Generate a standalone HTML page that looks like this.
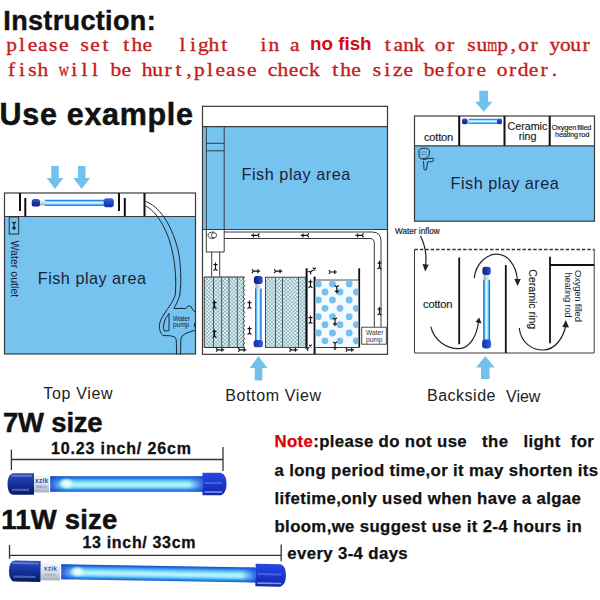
<!DOCTYPE html>
<html><head><meta charset="utf-8"><style>
html,body{margin:0;padding:0;background:#fff;}
body{width:600px;height:600px;position:relative;overflow:hidden;font-family:"Liberation Sans",sans-serif;}
svg{position:absolute;left:0;top:0;font-family:"Liberation Sans",sans-serif;}
</style></head><body>
<svg width="600" height="600" viewBox="0 0 600 600"><defs><pattern id="hatch" width="3.6" height="3.6" patternUnits="userSpaceOnUse"><rect width="3.6" height="3.6" fill="#def8fa"/><path d="M0 0 L3.6 3.6 M3.6 0 L0 3.6" stroke="#84a4ac" stroke-width="0.75"/></pattern><clipPath id="cerClip"><rect x="315.6" y="280.4" width="42.6" height="66.7"/></clipPath><linearGradient id="tubeS" x1="0" y1="0" x2="0" y2="1"><stop offset="0" stop-color="#2050d0"/><stop offset="0.16" stop-color="#3c90f0"/><stop offset="0.32" stop-color="#90e4ff"/><stop offset="0.5" stop-color="#e0fcff"/><stop offset="0.68" stop-color="#90e4ff"/><stop offset="0.84" stop-color="#3c90f0"/><stop offset="1" stop-color="#2050d0"/></linearGradient><linearGradient id="capS2" x1="0" y1="0" x2="0" y2="1"><stop offset="0" stop-color="#3a64e0"/><stop offset="0.5" stop-color="#1e44c8"/><stop offset="1" stop-color="#14309a"/></linearGradient><linearGradient id="capS" x1="0" y1="0" x2="0" y2="1"><stop offset="0" stop-color="#3858c8"/><stop offset="0.45" stop-color="#1a3aa8"/><stop offset="1" stop-color="#0e2070"/></linearGradient><linearGradient id="silS" x1="0" y1="0" x2="0" y2="1"><stop offset="0" stop-color="#f0f4f8"/><stop offset="0.6" stop-color="#c8d0dc"/><stop offset="1" stop-color="#98a0b0"/></linearGradient></defs><rect x="4" y="216.5" width="191.5" height="137.5" fill="#77c3ef"/><rect x="4.5" y="193" width="191" height="161" fill="none" stroke="#3a3a3a" stroke-width="1.2"/><line x1="4" y1="216.5" x2="195.5" y2="216.5" stroke="#3a3a3a" stroke-width="1.2"/><path d="M51.25 166 H58.75 V178 H63.35 L55 189 L46.65 178 H51.25 Z" fill="#72c0ec"/><path d="M77.95 166 H85.45 V178 H90.05 L81.7 189 L73.35000000000001 178 H77.95 Z" fill="#72c0ec"/><line x1="20" y1="193" x2="20" y2="211" stroke="#111" stroke-width="2"/><line x1="25.3" y1="198" x2="25.3" y2="216.5" stroke="#111" stroke-width="2"/><line x1="119" y1="193" x2="119" y2="211" stroke="#111" stroke-width="2"/><line x1="124.8" y1="198" x2="124.8" y2="216.5" stroke="#111" stroke-width="2"/><line x1="144.5" y1="193" x2="144.5" y2="216.5" stroke="#111" stroke-width="2"/><g transform="translate(31.7,202.8) rotate(0)"><rect x="13.0" y="-3.0" width="59.49999999999999" height="6" fill="url(#tubeS)"/><rect x="7.800000000000001" y="-2.55" width="5.7" height="5.1" fill="url(#silS)"/><rect x="0" y="-3.75" width="8.3" height="7.5" rx="2.625" fill="url(#capS)"/><rect x="72.0" y="-4.5" width="10.1" height="9" rx="3.15" fill="url(#capS2)"/></g><rect x="9.2" y="217" width="9.5" height="17" fill="none" stroke="#222" stroke-width="0.9"/><g transform="translate(14,226.5) scale(0.9,-0.9)" stroke="#111" stroke-width="1.3" fill="none"><path d="M0 -4 V3.5 M0 3.5 L-2.2 5 M0 3.5 L2.2 5 M-2.2 -1.5 H2.2"/></g><text x="0" y="0" transform="translate(10.5,240.5) rotate(90)" font-size="10.6" fill="#17223a">Water outlet</text><text x="37.8" y="284.4" font-size="16.2" letter-spacing="0.5" fill="#17223a">Fish play area</text><g fill="none" stroke="#1a2636" stroke-width="1"><path d="M145.5 205.9 C 156 211, 167 228, 172 250 C 175.5 265, 176.5 282, 175.2 295 C 172 305, 162 315, 160 322 C 158.5 328, 160 333, 163 335.5 L170.5 335.8 L174.6 336.9 L176.2 339.4 L176.7 354.4"/><path d="M145.5 201.3 C 158 206, 171 222, 178 250 C 181 263, 181.5 282, 179.8 295 C 178 301, 175.5 306, 173.8 308.5 L186 308.4 L188.2 305.8 L190.8 306.4 L193.3 310.6 L195.8 312"/><path d="M195.5 321.9 Q193 325 195.5 328 M195.3 330.1 L189.1 332.2 L185 333.8 L181.9 336.3 L180.8 339.4 L180.6 354.4"/><path d="M169 313.6 L169 330.7 L164.1 331 L163.3 326 L165.3 318.8 Z"/></g><text x="173" y="320.8" font-size="6.6" letter-spacing="-0.1" fill="#17223a">Water</text><text x="173" y="327.3" font-size="6.6" letter-spacing="-0.1" fill="#17223a">pump</text><rect x="202.5" y="126.7" width="185" height="102.8" fill="#77c3ef"/><rect x="202.5" y="106.3" width="185" height="248" fill="none" stroke="#3a3a3a" stroke-width="1.2"/><line x1="202.5" y1="126.7" x2="387.5" y2="126.7" stroke="#3a3a3a" stroke-width="1.2"/><line x1="202.5" y1="229.5" x2="387.5" y2="229.5" stroke="#3a3a3a" stroke-width="1"/><path d="M206.3 126.7 V252 H224.2 V126.7 M206.3 143.3 H224.2 M206.3 150.8 H224.2" fill="none" stroke="#3a3a3a" stroke-width="1"/><text x="241.5" y="179.6" font-size="16.2" letter-spacing="0.55" fill="#17223a">Fish play area</text><path d="M224.2 232 H372 Q381 232 381 241 V327.2 M224.2 238.5 H370 Q374.3 238.5 374.3 243 V327.2" fill="none" stroke="#3a3a3a" stroke-width="1"/><path d="M214 232 Q208 232 208 235.3 Q208 238.5 214 238.5" fill="none" stroke="#3a3a3a" stroke-width="1"/><circle cx="214" cy="235.3" r="2.6" fill="none" stroke="#3a3a3a" stroke-width="0.9"/><path d="M211.7 252 V276.7 M219.7 252 V276.7" stroke="#3a3a3a" stroke-width="1"/><path d="M204.2 277 H244.5 Q241.5 279.2 244.5 281.4 Q241.5 283.59999999999997 244.5 285.79999999999995 Q241.5 287.99999999999994 244.5 290.19999999999993 Q241.5 292.3999999999999 244.5 294.5999999999999 Q241.5 296.7999999999999 244.5 298.9999999999999 Q241.5 301.1999999999999 244.5 303.39999999999986 Q241.5 305.59999999999985 244.5 307.79999999999984 Q241.5 309.99999999999983 244.5 312.1999999999998 Q241.5 314.3999999999998 244.5 316.5999999999998 Q241.5 318.7999999999998 244.5 320.9999999999998 Q241.5 323.19999999999976 244.5 325.39999999999975 Q241.5 327.59999999999974 244.5 329.7999999999997 Q241.5 331.9999999999997 244.5 334.1999999999997 Q241.5 336.3999999999997 244.5 338.5999999999997 Q241.5 340.79999999999967 244.5 342.99999999999966 Q241.5 345.19999999999965 244.5 347.39999999999964 L244.5 347.5 H204.2 Z" fill="url(#hatch)" stroke="#333" stroke-width="1"/><line x1="213.5" y1="277" x2="213.5" y2="347.5" stroke="#4a5560" stroke-width="1"/><line x1="221.7" y1="277" x2="221.7" y2="347.5" stroke="#4a5560" stroke-width="1"/><line x1="229" y1="277" x2="229" y2="347.5" stroke="#4a5560" stroke-width="1"/><line x1="237.3" y1="277" x2="237.3" y2="347.5" stroke="#4a5560" stroke-width="1"/><g transform="translate(258.3,276) rotate(90)"><rect x="12.2" y="-3.3" width="52.3" height="6.6" fill="url(#tubeS)"/><rect x="7.5" y="-2.8049999999999997" width="5.2" height="5.609999999999999" fill="url(#silS)"/><rect x="0" y="-4.4" width="8" height="8.8" rx="2.8" fill="url(#capS)"/><rect x="64.0" y="-4.7" width="7.3" height="9.4" rx="2.5549999999999997" fill="url(#capS2)"/></g><rect x="265.5" y="277.2" width="40.5" height="70.3" fill="url(#hatch)" stroke="#3a3a3a" stroke-width="0.9"/><line x1="275.5" y1="277.2" x2="275.5" y2="347.5" stroke="#4a5560" stroke-width="1"/><line x1="282.5" y1="277.2" x2="282.5" y2="347.5" stroke="#4a5560" stroke-width="1"/><line x1="298.5" y1="277.2" x2="298.5" y2="347.5" stroke="#4a5560" stroke-width="1"/><line x1="306.6" y1="268.3" x2="306.6" y2="348" stroke="#111" stroke-width="2"/><line x1="314.6" y1="276.6" x2="314.6" y2="354" stroke="#111" stroke-width="2"/><line x1="359.2" y1="268.3" x2="359.2" y2="347.5" stroke="#111" stroke-width="1.8"/><rect x="315.6" y="280" width="42.6" height="67.5" fill="#f4fbff"/><line x1="315.6" y1="280" x2="359.2" y2="280" stroke="#3a3a3a" stroke-width="0.9"/><line x1="315.6" y1="347.5" x2="359.2" y2="347.5" stroke="#3a3a3a" stroke-width="1"/><g clip-path="url(#cerClip)"><circle cx="318.3" cy="284" r="3.4" fill="#74c0ee"/><circle cx="332.5" cy="284" r="3.4" fill="#74c0ee"/><circle cx="349.2" cy="284" r="3.4" fill="#74c0ee"/><circle cx="325" cy="292" r="3.4" fill="#74c0ee"/><circle cx="340" cy="292" r="3.4" fill="#74c0ee"/><circle cx="356.3" cy="292" r="3.4" fill="#74c0ee"/><circle cx="318.3" cy="300" r="3.4" fill="#74c0ee"/><circle cx="332.5" cy="300" r="3.4" fill="#74c0ee"/><circle cx="349.2" cy="300" r="3.4" fill="#74c0ee"/><circle cx="325" cy="308.3" r="3.4" fill="#74c0ee"/><circle cx="340" cy="308.3" r="3.4" fill="#74c0ee"/><circle cx="356.3" cy="308.3" r="3.4" fill="#74c0ee"/><circle cx="318.3" cy="316.7" r="3.4" fill="#74c0ee"/><circle cx="332.5" cy="316.7" r="3.4" fill="#74c0ee"/><circle cx="349.2" cy="316.7" r="3.4" fill="#74c0ee"/><circle cx="325" cy="324.7" r="3.4" fill="#74c0ee"/><circle cx="340" cy="324.7" r="3.4" fill="#74c0ee"/><circle cx="356.3" cy="324.7" r="3.4" fill="#74c0ee"/><circle cx="318.3" cy="333" r="3.4" fill="#74c0ee"/><circle cx="332.5" cy="333" r="3.4" fill="#74c0ee"/><circle cx="349.2" cy="333" r="3.4" fill="#74c0ee"/><circle cx="325" cy="340.8" r="3.4" fill="#74c0ee"/><circle cx="340" cy="340.8" r="3.4" fill="#74c0ee"/><circle cx="356.3" cy="340.8" r="3.4" fill="#74c0ee"/></g><rect x="361.7" y="327.2" width="24.6" height="17" fill="#fff" stroke="#3a3a3a" stroke-width="0.9"/><text x="366" y="334.5" font-size="6.6" fill="#333">Water</text><text x="366" y="341.8" font-size="6.6" fill="#333">pump</text><g transform="translate(254.8,235.4) scale(0.9,0.9)" stroke="#111" stroke-width="1.3" fill="none"><path d="M-4 0 H3.5 M3.5 0 L5 -2.2 M3.5 0 L5 2.2 M-1.5 -2.2 V2.2"/></g><g transform="translate(304.3,235.4) scale(0.9,0.9)" stroke="#111" stroke-width="1.3" fill="none"><path d="M-4 0 H3.5 M3.5 0 L5 -2.2 M3.5 0 L5 2.2 M-1.5 -2.2 V2.2"/></g><g transform="translate(359,235.4) scale(0.9,0.9)" stroke="#111" stroke-width="1.3" fill="none"><path d="M-4 0 H3.5 M3.5 0 L5 -2.2 M3.5 0 L5 2.2 M-1.5 -2.2 V2.2"/></g><g transform="translate(256.5,271.2) scale(-0.9,0.9)" stroke="#111" stroke-width="1.3" fill="none"><path d="M-4 0 H3.5 M3.5 0 L5 -2.2 M3.5 0 L5 2.2 M-1.5 -2.2 V2.2"/></g><g transform="translate(278.7,271.2) scale(-0.9,0.9)" stroke="#111" stroke-width="1.3" fill="none"><path d="M-4 0 H3.5 M3.5 0 L5 -2.2 M3.5 0 L5 2.2 M-1.5 -2.2 V2.2"/></g><g transform="translate(333.4,272) scale(-0.9,0.9)" stroke="#111" stroke-width="1.3" fill="none"><path d="M-4 0 H3.5 M3.5 0 L5 -2.2 M3.5 0 L5 2.2 M-1.5 -2.2 V2.2"/></g><g transform="translate(220.6,349.8) scale(-0.9,0.9)" stroke="#111" stroke-width="1.3" fill="none"><path d="M-4 0 H3.5 M3.5 0 L5 -2.2 M3.5 0 L5 2.2 M-1.5 -2.2 V2.2"/></g><g transform="translate(242.8,349.8) scale(-0.9,0.9)" stroke="#111" stroke-width="1.3" fill="none"><path d="M-4 0 H3.5 M3.5 0 L5 -2.2 M3.5 0 L5 2.2 M-1.5 -2.2 V2.2"/></g><g transform="translate(294,349.8) scale(-0.9,0.9)" stroke="#111" stroke-width="1.3" fill="none"><path d="M-4 0 H3.5 M3.5 0 L5 -2.2 M3.5 0 L5 2.2 M-1.5 -2.2 V2.2"/></g><g transform="translate(350.4,349.8) scale(-0.9,0.9)" stroke="#111" stroke-width="1.3" fill="none"><path d="M-4 0 H3.5 M3.5 0 L5 -2.2 M3.5 0 L5 2.2 M-1.5 -2.2 V2.2"/></g><g transform="translate(313,270) rotate(-40)"><g transform="translate(0,0) scale(-0.9,0.9)" stroke="#111" stroke-width="1.3" fill="none"><path d="M-4 0 H3.5 M3.5 0 L5 -2.2 M3.5 0 L5 2.2 M-1.5 -2.2 V2.2"/></g></g><g transform="translate(309.5,347) rotate(-45)"><g transform="translate(0,0) scale(-0.8,0.8)" stroke="#111" stroke-width="1.3" fill="none"><path d="M-4 0 H3.5 M3.5 0 L5 -2.2 M3.5 0 L5 2.2 M-1.5 -2.2 V2.2"/></g></g><g transform="translate(215.5,266) scale(0.9,0.9)" stroke="#111" stroke-width="1.3" fill="none"><path d="M0 -4 V3.5 M0 3.5 L-2.2 5 M0 3.5 L2.2 5 M-2.2 -1.5 H2.2"/></g><g transform="translate(379.5,264.4) scale(0.9,0.9)" stroke="#111" stroke-width="1.3" fill="none"><path d="M0 -4 V3.5 M0 3.5 L-2.2 5 M0 3.5 L2.2 5 M-2.2 -1.5 H2.2"/></g><g transform="translate(379.5,310.5) scale(0.9,0.9)" stroke="#111" stroke-width="1.3" fill="none"><path d="M0 -4 V3.5 M0 3.5 L-2.2 5 M0 3.5 L2.2 5 M-2.2 -1.5 H2.2"/></g><g transform="translate(214.5,304) scale(0.9,0.9)" stroke="#111" stroke-width="1.3" fill="none"><path d="M0 -4 V3.5 M0 3.5 L-2.2 5 M0 3.5 L2.2 5 M-2.2 -1.5 H2.2"/></g><g transform="translate(214.5,333) scale(0.9,0.9)" stroke="#111" stroke-width="1.3" fill="none"><path d="M0 -4 V3.5 M0 3.5 L-2.2 5 M0 3.5 L2.2 5 M-2.2 -1.5 H2.2"/></g><g transform="translate(249.5,304) scale(0.9,0.9)" stroke="#111" stroke-width="1.3" fill="none"><path d="M0 -4 V3.5 M0 3.5 L-2.2 5 M0 3.5 L2.2 5 M-2.2 -1.5 H2.2"/></g><g transform="translate(249.5,330) scale(0.9,0.9)" stroke="#111" stroke-width="1.3" fill="none"><path d="M0 -4 V3.5 M0 3.5 L-2.2 5 M0 3.5 L2.2 5 M-2.2 -1.5 H2.2"/></g><g transform="translate(310.5,283.2) scale(0.9,0.9)" stroke="#111" stroke-width="1.3" fill="none"><path d="M0 -4 V3.5 M0 3.5 L-2.2 5 M0 3.5 L2.2 5 M-2.2 -1.5 H2.2"/></g><g transform="translate(310.5,319) scale(0.9,0.9)" stroke="#111" stroke-width="1.3" fill="none"><path d="M0 -4 V3.5 M0 3.5 L-2.2 5 M0 3.5 L2.2 5 M-2.2 -1.5 H2.2"/></g><g transform="translate(336.8,290) scale(0.9,-0.9)" stroke="#111" stroke-width="1.3" fill="none"><path d="M0 -4 V3.5 M0 3.5 L-2.2 5 M0 3.5 L2.2 5 M-2.2 -1.5 H2.2"/></g><g transform="translate(335,322.5) scale(0.9,-0.9)" stroke="#111" stroke-width="1.3" fill="none"><path d="M0 -4 V3.5 M0 3.5 L-2.2 5 M0 3.5 L2.2 5 M-2.2 -1.5 H2.2"/></g><g transform="translate(335,346.4) scale(0.9,-0.9)" stroke="#111" stroke-width="1.3" fill="none"><path d="M0 -4 V3.5 M0 3.5 L-2.2 5 M0 3.5 L2.2 5 M-2.2 -1.5 H2.2"/></g><path d="M254.7 380.6 H262.3 V368 H267.35 L258.5 356 L249.65 368 H254.7 Z" fill="#72c0ec"/><rect x="414.5" y="145.8" width="180" height="75.4" fill="#77c3ef"/><rect x="414.5" y="116" width="180" height="105.2" fill="none" stroke="#3a3a3a" stroke-width="1.2"/><line x1="414.5" y1="145.8" x2="594.5" y2="145.8" stroke="#3a3a3a" stroke-width="1.2"/><line x1="459.2" y1="116" x2="459.2" y2="145.8" stroke="#111" stroke-width="2"/><line x1="504.5" y1="116" x2="504.5" y2="145.8" stroke="#111" stroke-width="2"/><line x1="549.7" y1="116" x2="549.7" y2="145.8" stroke="#111" stroke-width="2"/><path d="M479.3 90.8 H488.09999999999997 V101.7 H492.45 L483.7 111.7 L474.95 101.7 H479.3 Z" fill="#72c0ec"/><g transform="translate(462,121.3) rotate(0)"><rect x="6.5" y="-2.5" width="29.0" height="5" fill="url(#tubeS)"/><rect x="5.0" y="-2.125" width="2.0" height="4.25" fill="url(#silS)"/><rect x="0" y="-2.9" width="5.5" height="5.8" rx="1.9249999999999998" fill="url(#capS)"/><rect x="35" y="-2.9" width="5" height="5.8" rx="1.75" fill="url(#capS2)"/></g><text x="424" y="140.5" font-size="11.2" letter-spacing="-0.25" fill="#1a1a1a" stroke="#1a1a1a" stroke-width="0.15">cotton</text><text x="507.5" y="130" font-size="10.7" fill="#1a1a1a" stroke="#1a1a1a" stroke-width="0.15">Ceramic</text><text x="518.7" y="140" font-size="10.7" fill="#1a1a1a" stroke="#1a1a1a" stroke-width="0.15">ring</text><text x="551.7" y="129.6" font-size="7.4" letter-spacing="-0.18" word-spacing="-0.8" fill="#1a1a1a" stroke="#1a1a1a" stroke-width="0.15">Oxygen filled</text><text x="555" y="137.2" font-size="7.4" letter-spacing="-0.18" word-spacing="-0.8" fill="#1a1a1a" stroke="#1a1a1a" stroke-width="0.15">heating rod</text><text x="450.6" y="188.7" font-size="16.2" letter-spacing="0.5" fill="#17223a">Fish play area</text><g fill="none" stroke="#1c3050" stroke-width="1"><path d="M419 152 Q418 148.5 423 148.3 Q429 148 429.5 151 Q430 156 427 158 L421 159 Q418 157 419 152 Z"/><path d="M423 159.5 L433 158 Q434 160 433 161.5 L427.5 162 L426.5 169.5 Q425 170.5 424 169.5 L423.5 161"/><path d="M420.5 152 H427 M420.5 154.5 H427" stroke-width="0.5" stroke="#4a6080"/></g><text x="395" y="233.8" font-size="8.2" fill="#2a2a2a" stroke="#2a2a2a" stroke-width="0.2">Water inflow</text><path d="M420.5 236 C 425 245, 427 255, 425.5 266" fill="none" stroke="#222" stroke-width="1.2"/><path d="M422.5 264 L425.2 271.5 L428.8 264.8 Z" fill="#222"/><line x1="414.5" y1="249.5" x2="594.5" y2="249.5" stroke="#333" stroke-width="1.3" stroke-dasharray="3.4 2"/><path d="M414.5 249.5 V353 H594.2 V249.5" fill="none" stroke="#3a3a3a" stroke-width="1"/><line x1="459.2" y1="257.5" x2="459.2" y2="344.2" stroke="#111" stroke-width="1.8"/><line x1="505.8" y1="265" x2="505.8" y2="353" stroke="#111" stroke-width="1.8"/><line x1="550" y1="256.7" x2="550" y2="343.3" stroke="#111" stroke-width="1.8"/><line x1="550" y1="265" x2="594.2" y2="265" stroke="#111" stroke-width="1.8"/><g transform="translate(486.6,266.7) rotate(90)"><rect x="13.0" y="-3.5" width="60.3" height="7" fill="url(#tubeS)"/><rect x="7.800000000000001" y="-2.975" width="5.7" height="5.95" fill="url(#silS)"/><rect x="0" y="-4.2" width="8.3" height="8.4" rx="2.9050000000000002" fill="url(#capS)"/><rect x="72.8" y="-4.5" width="9" height="9" rx="3.15" fill="url(#capS2)"/></g><text x="423" y="307.8" font-size="11.2" letter-spacing="-0.2" fill="#1a1a1a" stroke="#1a1a1a" stroke-width="0.15">cotton</text><text x="0" y="0" transform="translate(528.5,269.2) rotate(90)" font-size="10.6" fill="#1a1a1a" stroke="#1a1a1a" stroke-width="0.15">Ceramic ring</text><text x="0" y="0" transform="translate(575,270) rotate(90)" font-size="9.5" letter-spacing="-0.25" fill="#17223a">Oxygen filled</text><text x="0" y="0" transform="translate(565,272.5) rotate(90)" font-size="9.5" letter-spacing="-0.25" fill="#17223a">heating rod</text><g fill="none" stroke="#222" stroke-width="1.2"><path d="M474.2 278.3 C 476 262, 488 254, 497 254.2 C 508 254.5, 516 265, 517.5 280"/><path d="M430.8 326.7 C 434 340, 446 349, 459 348.7 C 470 348.5, 477 335, 478.5 322"/><path d="M519.2 328 C 521 343, 532 350, 543.3 350 C 555 350, 563 338, 565.8 326"/></g><path d="M514.3 279 L517.5 286 L520.8 279 Z" fill="#222"/><path d="M475.5 322 L479.2 317.5 L481.5 323.5 Z" fill="#222"/><path d="M562.3 327 L565.8 320 L569 327.5 Z" fill="#222"/><path d="M481.05 379 H489.55 V367.5 H494.55 L485.3 356 L476.05 367.5 H481.05 Z" fill="#72c0ec"/><text x="43.3" y="399.2" font-size="16" letter-spacing="0.67" fill="#222">Top View</text><text x="225.2" y="401" font-size="16" letter-spacing="0.63" fill="#222">Bottom View</text><text x="427" y="400.75" font-size="16" letter-spacing="0.5" fill="#222">Backside</text><text x="506" y="402" font-size="16" fill="#222">View</text><defs><linearGradient id="tubeB" x1="0" y1="0" x2="0" y2="1"><stop offset="0" stop-color="#1848c8"/><stop offset="0.1" stop-color="#2070e0"/><stop offset="0.25" stop-color="#50b8f4"/><stop offset="0.45" stop-color="#a8ecff"/><stop offset="0.6" stop-color="#b8f2ff"/><stop offset="0.75" stop-color="#70d0f8"/><stop offset="0.88" stop-color="#2a88e8"/><stop offset="1" stop-color="#1a58d0"/></linearGradient><linearGradient id="tubeStart" x1="0" y1="0" x2="1" y2="0"><stop offset="0" stop-color="#1a50d0" stop-opacity="0.95"/><stop offset="1" stop-color="#1a60e0" stop-opacity="0"/></linearGradient><radialGradient id="glow"><stop offset="0" stop-color="#ffffff"/><stop offset="0.5" stop-color="#e0ffff" stop-opacity="0.8"/><stop offset="1" stop-color="#c0f8ff" stop-opacity="0"/></radialGradient><linearGradient id="tubeEnd" x1="0" y1="0" x2="1" y2="0"><stop offset="0" stop-color="#1a60e0" stop-opacity="0"/><stop offset="1" stop-color="#1a50d8" stop-opacity="0.85"/></linearGradient><linearGradient id="capL" x1="0" y1="0" x2="0" y2="1"><stop offset="0" stop-color="#2a4cc0"/><stop offset="0.5" stop-color="#15309a"/><stop offset="1" stop-color="#0a1a5c"/></linearGradient><linearGradient id="capR" x1="0" y1="0" x2="0" y2="1"><stop offset="0" stop-color="#2848e0"/><stop offset="0.5" stop-color="#1a38d0"/><stop offset="1" stop-color="#1028a8"/></linearGradient><linearGradient id="silB" x1="0" y1="0" x2="0" y2="1"><stop offset="0" stop-color="#f4f6f8"/><stop offset="0.5" stop-color="#dce0e6"/><stop offset="1" stop-color="#a8b0bc"/></linearGradient></defs><g transform="translate(9,484) rotate(0)"><rect x="41.3" y="-7.75" width="153.0" height="15.5" fill="url(#tubeB)"/><rect x="41.3" y="-7.75" width="16" height="15.5" fill="url(#tubeStart)"/><ellipse cx="57.5" cy="-0.5" rx="8" ry="5.89" fill="url(#glow)"/><rect x="179.5" y="-7.75" width="14" height="15.5" fill="url(#tubeEnd)"/><rect x="24.5" y="-8.5" width="15.5" height="17" fill="url(#silB)"/><text x="32.75" y="-1" font-size="6.5" font-weight="bold" fill="#3050c0" text-anchor="middle" letter-spacing="0.3">xzik</text><text x="32.75" y="4" font-size="3" fill="#7080a0" text-anchor="middle" letter-spacing="0.6">MADE</text><path d="M25 -10.75 H4 Q-1.5 -9.75 -1.5 0 Q-1.5 9.75 4 10.75 H25 Z" fill="url(#capL)"/><rect x="2" y="-9.25" width="21" height="2" fill="#8aa0e8" opacity="0.55"/><rect x="3" y="4.75" width="17" height="2.2" fill="#6a88e0" opacity="0.6"/><path d="M193.5 -11.25 H212 Q217.5 -9.25 217.5 0 Q217.5 9.25 212 11.25 H193.5 Z" fill="url(#capR)"/><rect x="195.5" y="-2" width="17.5" height="2" fill="#5a80f0" opacity="0.6"/><rect x="195.5" y="7.25" width="17.5" height="1.6" fill="#c8d8ff" opacity="0.6"/></g><g transform="translate(10.5,571) rotate(0.95)"><rect x="50.8" y="-7.5" width="195" height="15" fill="url(#tubeB)"/><rect x="50.8" y="-7.5" width="16" height="15" fill="url(#tubeStart)"/><ellipse cx="67" cy="-0.5" rx="8" ry="5.7" fill="url(#glow)"/><rect x="231" y="-7.5" width="14" height="15" fill="url(#tubeEnd)"/><rect x="29.5" y="-8.75" width="20" height="17.5" fill="url(#silB)"/><text x="40.0" y="-1" font-size="6.5" font-weight="bold" fill="#3050c0" text-anchor="middle" letter-spacing="0.3">xzik</text><text x="40.0" y="4" font-size="3" fill="#7080a0" text-anchor="middle" letter-spacing="0.6">MADE</text><path d="M30 -10.5 H4 Q-1.5 -9.5 -1.5 0 Q-1.5 9.5 4 10.5 H30 Z" fill="url(#capL)"/><rect x="2" y="-9.0" width="26" height="2" fill="#8aa0e8" opacity="0.55"/><rect x="3" y="4.5" width="22" height="2.2" fill="#6a88e0" opacity="0.6"/><path d="M245 -11.25 H270 Q275.5 -9.25 275.5 0 Q275.5 9.25 270 11.25 H245 Z" fill="url(#capR)"/><rect x="247" y="-2" width="24" height="2" fill="#5a80f0" opacity="0.6"/><rect x="247" y="7.25" width="24" height="1.6" fill="#c8d8ff" opacity="0.6"/></g><g stroke="#333" stroke-width="1.3"><line x1="11.4" y1="449.6" x2="11.4" y2="470"/><line x1="223" y1="447" x2="223" y2="471"/><line x1="11.4" y1="459.5" x2="223" y2="459.5"/><line x1="9.5" y1="545" x2="9.5" y2="558.7"/><line x1="281.2" y1="544.5" x2="281.2" y2="561.2"/><line x1="9.5" y1="555.3" x2="281.2" y2="555.3"/></g>
<text x="3.3" y="29.7" font-size="27" font-weight="bold" letter-spacing="0.35" fill="#111" stroke="#111" stroke-width="0.4">Instruction:</text>
<text transform="scale(1.1,1)" x="10.47 19.96 29.45 38.95 48.44 57.93 76.91 86.40 95.89 114.87 124.36 133.85" y="50.6" text-anchor="middle" font-family="Liberation Serif" font-size="19.5" fill="#c41c1c" stroke="#c41c1c" stroke-width="0.35">pleasesetthe</text><text transform="scale(1.1,1)" x="165.93 175.42 184.91 194.40 203.89" y="50.6" text-anchor="middle" font-family="Liberation Serif" font-size="19.5" fill="#c41c1c" stroke="#c41c1c" stroke-width="0.35">light</text><text transform="scale(1.1,1)" x="239.56 249.05 268.04" y="50.6" text-anchor="middle" font-family="Liberation Serif" font-size="19.5" fill="#c41c1c" stroke="#c41c1c" stroke-width="0.35">ina</text><text transform="translate(492.22,0) scale(0.66,1)" x="0" y="50.6" text-anchor="middle" font-family="Liberation Serif" font-size="19.5" fill="#c41c1c" stroke="#c41c1c" stroke-width="0.35">m</text><text transform="scale(1.1,1)" x="352.56 362.05 371.55 381.04 400.02 409.51 428.49 437.98 456.96 466.45 475.95 485.44 504.42 513.91 523.40 532.89" y="50.6" text-anchor="middle" font-family="Liberation Serif" font-size="19.5" fill="#c41c1c" stroke="#c41c1c" stroke-width="0.35">tankorsup,oryour</text><text transform="translate(63.72,0) scale(0.72,1)" x="0" y="75.9" text-anchor="middle" font-family="Liberation Serif" font-size="19.5" fill="#c41c1c" stroke="#c41c1c" stroke-width="0.35">w</text><text transform="scale(1.1,1)" x="10.47 19.96 29.45 38.95 67.42 76.91 86.40 105.38 114.87 133.85 143.35 152.84 162.33 171.82 181.31 190.80 200.29 209.78 219.27 228.76 247.75 257.24 266.73 276.22 285.71 304.69 314.18 323.67 342.65 352.15 361.64 371.13 390.11 399.60 409.09 418.58 428.07 437.56 456.55 466.04 475.53 485.02 494.51 504.00" y="75.9" text-anchor="middle" font-family="Liberation Serif" font-size="19.5" fill="#c41c1c" stroke="#c41c1c" stroke-width="0.35">fishillbehurt,pleasecheckthesizebeforeorder.</text>
<text x="310" y="49.5" font-size="18.8" font-weight="bold" fill="#d40a10">no fish</text>
<text x="-0.5" y="124.5" font-size="30.5" font-weight="bold" letter-spacing="0.7" fill="#111" stroke="#111" stroke-width="0.5">Use example</text>
<text x="3" y="432" font-size="27.5" font-weight="bold" letter-spacing="-0.2" fill="#111" stroke="#111" stroke-width="0.5">7W size</text>
<text x="1.3" y="528.6" font-size="27.5" font-weight="bold" letter-spacing="0.2" fill="#111" stroke="#111" stroke-width="0.5">11W size</text>
<text x="51" y="454" font-size="16" font-weight="bold" letter-spacing="0.85" fill="#111" stroke="#111" stroke-width="0.3">10.23 inch/ 26cm</text>
<text x="82.5" y="547.5" font-size="16" font-weight="bold" letter-spacing="0.67" fill="#111" stroke="#111" stroke-width="0.3">13 inch/ 33cm</text>
<g font-size="16.8" font-weight="bold" letter-spacing="0.36" fill="#111" stroke="#111" stroke-width="0.25">
<text x="274.5" y="447.2" xml:space="preserve"><tspan fill="#dc0000" stroke="#dc0000">Note</tspan>:please do not use   the   light  for</text>
<text x="274.5" y="475.6" xml:space="preserve">a long period time,or it may shorten its</text>
<text x="274.5" y="504.2" xml:space="preserve">lifetime,only used when have a algae</text>
<text x="274.5" y="531.9" xml:space="preserve">bloom,we suggest use it 2-4 hours in</text>
<text x="287.3" y="559.4" xml:space="preserve">every 3-4 days</text>
</g>
</svg>
</body></html>
